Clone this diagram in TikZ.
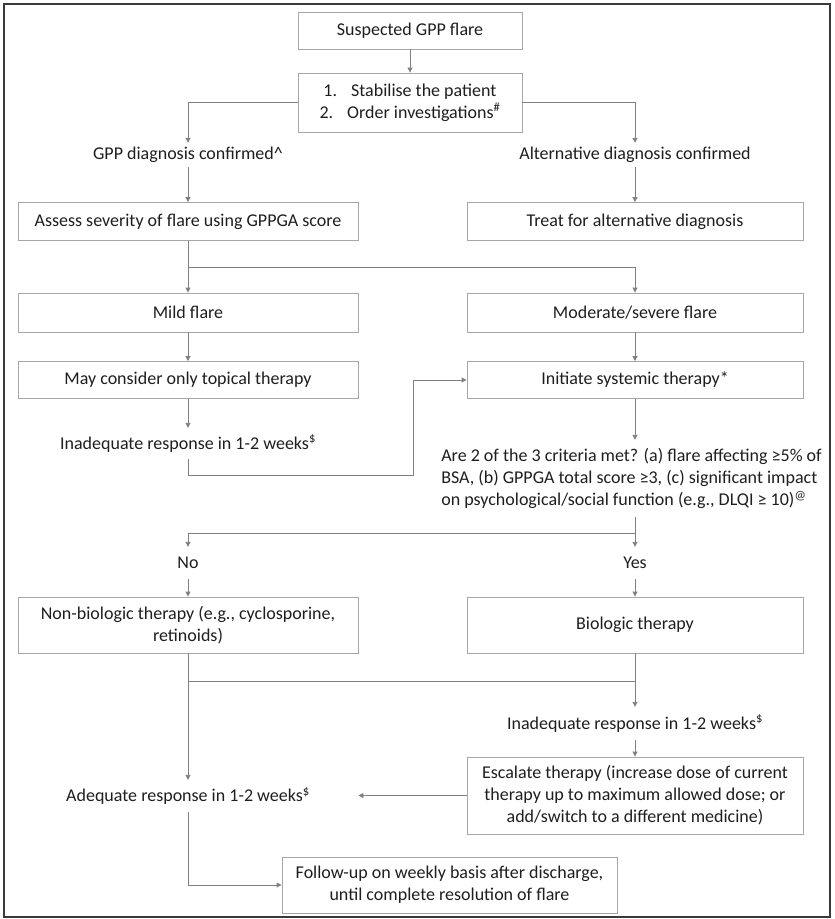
\documentclass[tikz,border=0pt]{standalone}
\usepackage{fontspec}
\setmainfont{Carlito}
\usetikzlibrary{arrows.meta}
\definecolor{boxc}{HTML}{A6A6A6}
\definecolor{linec}{HTML}{808080}
\definecolor{txtc}{HTML}{1E1E1E}
\definecolor{framec}{HTML}{3A3A3A}
\begin{document}
\begin{tikzpicture}[x=1pt,y=-1pt,
  every node/.style={font=\fontsize{18}{22}\selectfont, text=txtc},
  box/.style={draw=boxc, line width=0.9pt, align=center, inner sep=0pt},
  lbl/.style={inner sep=0pt, align=center},
  arr/.style={draw=linec, line width=0.9pt, -{Triangle[length=5pt,width=5pt]}},
  ln/.style={draw=linec, line width=0.9pt}]
\useasboundingbox (0,0) rectangle (835,919);
\draw[line width=1.3pt, draw=framec] (4,4) rectangle (830,917);

% top
\node[box, minimum width=224pt, minimum height=37pt] (sus) at (410,30.5) {Suspected GPP flare};
\node[box, minimum width=224pt, minimum height=59pt] (stab) at (410,102.5)
  {1.\hspace{14pt}Stabilise the patient\\2.\hspace{14pt}Order investigations\textsuperscript{\#}};
\node[lbl, minimum height=24pt] (gpp) at (188,155) {GPP diagnosis confirmed\^{}};
\node[lbl, minimum height=24pt] (alt) at (635,155) {Alternative diagnosis confirmed};
\node[box, minimum width=340pt, minimum height=38pt] (assess) at (188,221.5) {Assess severity of flare using GPPGA score};
\node[box, minimum width=336pt, minimum height=38pt] (treat) at (635,221.5) {Treat for alternative diagnosis};

% severity
\node[box, minimum width=340pt, minimum height=39pt] (mild) at (188,312.5) {Mild flare};
\node[box, minimum width=336pt, minimum height=39pt] (mod) at (635,312.5) {Moderate/severe flare};
\node[box, minimum width=340pt, minimum height=37pt] (top) at (188,380) {May consider only topical therapy};
\node[box, minimum width=336pt, minimum height=37pt] (init) at (635,380) {Initiate systemic therapy*};
\node[lbl, minimum height=31pt] (inq1) at (188,443.5) {Inadequate response in 1-2 weeks\textsuperscript{\$}};
\node[lbl, align=left, minimum height=77pt] (q) at (631.5,478.5)
  {Are 2 of the 3 criteria met? (a) flare affecting ≥5\% of\\
   BSA, (b) GPPGA total score ≥3, (c) significant impact\\
   on psychological/social function (e.g., DLQI ≥ 10)\textsuperscript{@}};

% yes / no
\node[lbl, minimum height=32pt] (no) at (188,563) {No};
\node[lbl, minimum height=32pt] (yes) at (635,563) {Yes};
\node[box, minimum width=340pt, minimum height=56pt] (nonbio) at (188,625)
  {Non-biologic therapy (e.g., cyclosporine,\\retinoids)};
\node[box, minimum width=336pt, minimum height=56pt] (bio) at (635,625) {Biologic therapy};
\node[lbl, minimum height=33pt] (inq2) at (635,723.5) {Inadequate response in 1-2 weeks\textsuperscript{\$}};
\node[box, minimum width=336pt, minimum height=77pt] (esc) at (635,795.5)
  {Escalate therapy (increase dose of current\\therapy up to maximum allowed dose; or\\add/switch to a different medicine)};
\node[lbl, minimum height=32pt] (adq) at (188,796) {Adequate response in 1-2 weeks\textsuperscript{\$}};
\node[box, minimum width=335pt, minimum height=56pt] (follow) at (449.5,885)
  {Follow-up on weekly basis after discharge,\\until complete resolution of flare};

% helper coordinates
\coordinate (s1) at (188,267);
\coordinate (l1) at (188,475);
\coordinate (l2) at (413,475);
\coordinate (s2) at (635,533);
\coordinate (s3) at (188,681);

% connectors
\draw[arr] (sus) -- (stab);
\draw[arr] (stab.west) -| (gpp.north);
\draw[arr] (stab.east) -| (alt.north);
\draw[arr] (gpp) -- (assess);
\draw[arr] (alt) -- (treat);
\draw[arr] (assess) -- (mild);
\draw[arr] (s1) -| (mod.north);
\draw[arr] (mild) -- (top);
\draw[arr] (mod) -- (init);
\draw[arr] (top) -- (inq1);
\draw[arr] (inq1.south) -- (l1) -- (l2) |- (init.west);
\draw[arr] (init) -- (q.north -| init.south);
\draw[ln] (q.south -| init.south) -- (s2);
\draw[arr] (s2) -| (no.north);
\draw[arr] (s2) -- (yes.north);
\draw[arr] (no) -- (nonbio);
\draw[arr] (yes) -- (bio);
\draw[arr] (nonbio) -- (adq);
\draw[ln] (s3) -| (bio.south);
\draw[arr] (bio) -- (inq2);
\draw[arr] (inq2) -- (esc);
\draw[arr] (esc.west) -- (esc.west -| nonbio.east);
\draw[arr] (adq.south) |- (follow.west);
\end{tikzpicture}
\end{document}
